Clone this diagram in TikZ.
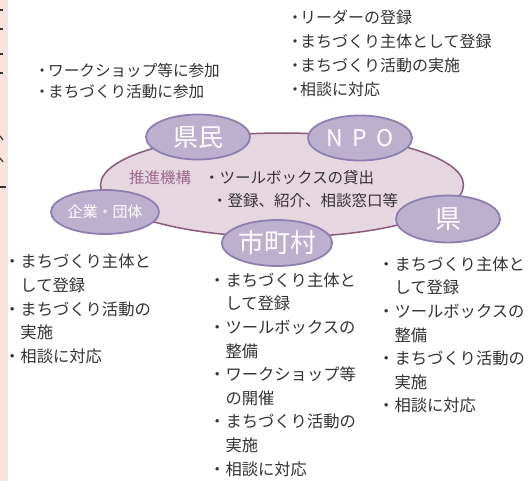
\documentclass[tikz,border=0pt]{standalone}
\usepackage{fontspec}
\setmainfont{Noto Sans CJK JP}
\usetikzlibrary{shapes.geometric}
\definecolor{txtgray}{HTML}{333333}
\definecolor{strip}{HTML}{F8E4D8}
\definecolor{bigfill}{HTML}{E6D6E0}
\definecolor{bigline}{HTML}{8C5A7C}
\definecolor{smallfill}{HTML}{BDB0CF}
\definecolor{smallline}{HTML}{8E7FB0}
\definecolor{mauvetxt}{HTML}{9B6B8C}
\newcommand{\nb}[1]{\makebox[#1][c]{・}}
\tikzset{
  bigell/.style={ellipse, draw=bigline, fill=bigfill, line width=1.5pt, inner sep=0pt},
  smallell/.style={ellipse, draw=smallline, fill=smallfill, line width=1.8pt, inner sep=0pt,
    minimum width=104pt, minimum height=45pt, text=white},
  txtblock/.style={anchor=north west, inner sep=0pt, align=left, text=txtgray},
  big/.style={font=\fontsize{16.3}{23.6}\selectfont}
}
\begin{document}
\begin{tikzpicture}[x=1pt,y=-1pt]
\useasboundingbox (0,0) rectangle (530,481);
\fill[white] (0,0) rectangle (530,481);
\fill[strip] (0,0) rectangle (8,481);
% cut-off glyph fragments at left edge
\draw[txtgray, line width=1.3pt] (0,10) -- (2.5,10);
\draw[txtgray, line width=1.3pt] (0,29) -- (2.5,29);
\draw[txtgray, line width=1.3pt] (0,54) -- (3,54);
\draw[txtgray, line width=1.3pt] (0,73) -- (3,73);
\draw[txtgray, line width=1.2pt] (0,136) -- (3,140);
\draw[txtgray, line width=1.2pt] (0,158) -- (3,162);
\draw[txtgray, line width=1.3pt] (0,187) -- (6,187);

% central body
\node[bigell, minimum width=363pt, minimum height=104pt] (kiko) at (282,185) {};
\node[anchor=center, inner sep=0pt, text=mauvetxt, font=\fontsize{15.5}{20}\selectfont] (suishin) at (160,178) {推進機構};
\node[txtblock, font=\fontsize{15.5}{23}\selectfont] (kikotxt) at (204,170.5) {・ツールボックスの貸出\\\hspace*{8pt}・登録、紹介、相談窓口等};

% actor ellipses
\node[smallell, font=\fontsize{25}{30}\selectfont] (kenmin) at (198,137) {県民};
\node[smallell, font=\fontsize{23}{28}\selectfont] (npo) at (360,138) {N\hspace{9pt}P\hspace{9pt}O};
\node[smallell, minimum width=108pt, minimum height=44pt, font=\fontsize{15}{18}\selectfont] (kigyo) at (105,212) {企業・団体};
\node[smallell, minimum height=46pt, font=\fontsize{26}{30}\selectfont] (shichoson) at (277,243) {市町村};
\node[smallell, minimum height=47pt, font=\fontsize{26}{30}\selectfont] (ken) at (448,219) {県};

% text blocks
\node[txtblock, font=\fontsize{15.6}{21}\selectfont] (tl) at (36,62.7) {\nb{12pt}ワークショップ等に参加\\\nb{12pt}まちづくり活動に参加};
\node[txtblock, font=\fontsize{16}{24}\selectfont] (tr) at (290,9.5) {\nb{10pt}リーダーの登録\\\nb{10pt}まちづくり主体として登録\\\nb{10pt}まちづくり活動の実施\\\nb{10pt}相談に対応};
\node[txtblock, big] (lb) at (4,254) {・まちづくり主体と\\\hspace*{1em}して登録\\・まちづくり活動の\\\hspace*{1em}実施\\・相談に対応};
\node[txtblock, big] (mb) at (209,272.5) {・まちづくり主体と\\\hspace*{1em}して登録\\・ツールボックスの\\\hspace*{1em}整備\\・ワークショップ等\\\hspace*{1em}の開催\\・まちづくり活動の\\\hspace*{1em}実施\\・相談に対応};
\node[txtblock, big] (rb) at (378,256.5) {・まちづくり主体と\\\hspace*{1em}して登録\\・ツールボックスの\\\hspace*{1em}整備\\・まちづくり活動の\\\hspace*{1em}実施\\・相談に対応};
\end{tikzpicture}
\end{document}
